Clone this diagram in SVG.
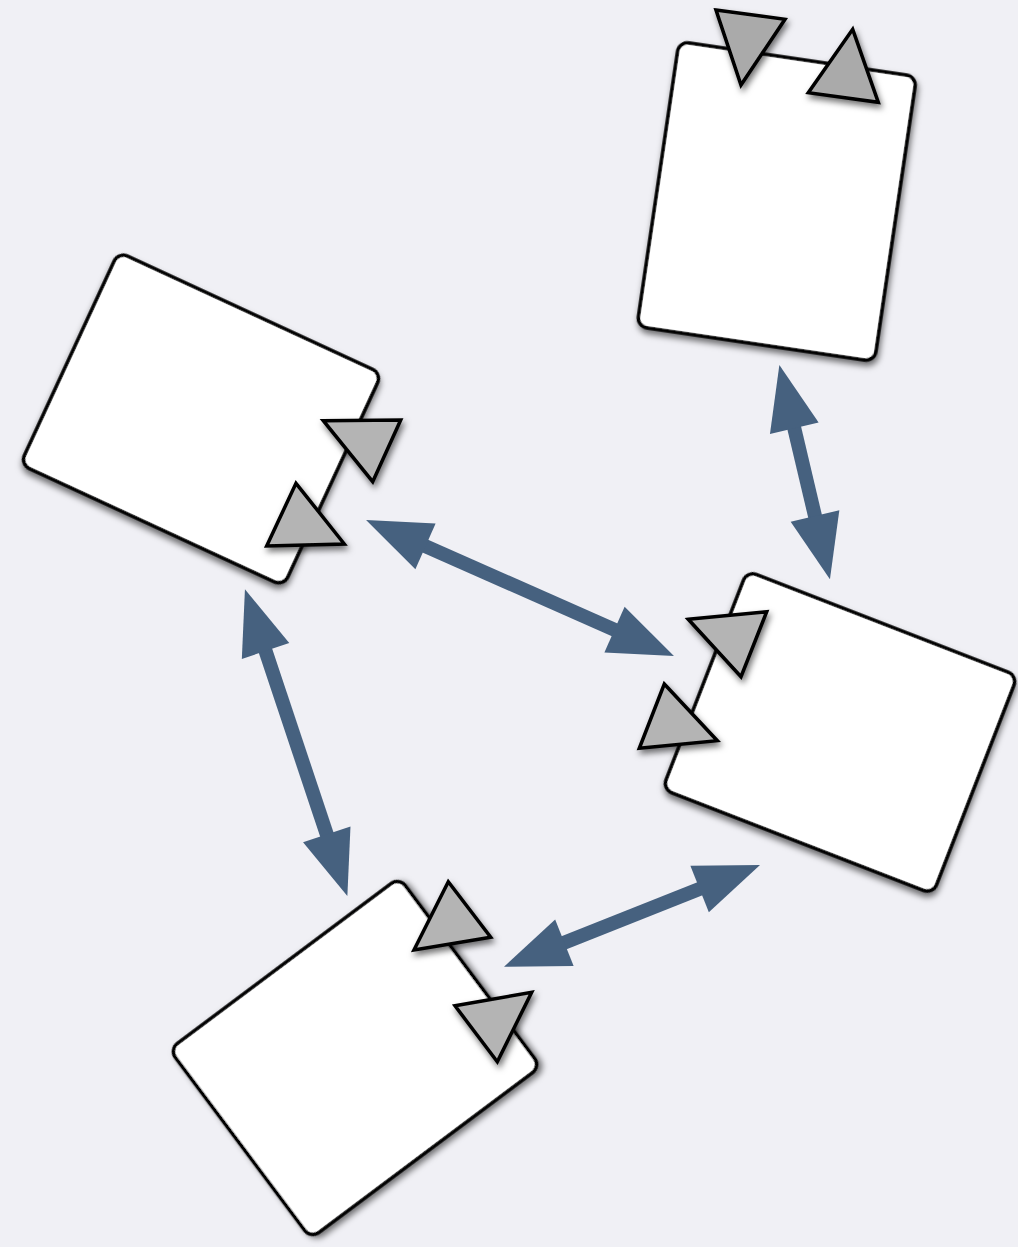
<svg xmlns="http://www.w3.org/2000/svg" width="1018" height="1247" viewBox="0 0 1018 1247">
<defs>
<filter id="sh" x="-20%" y="-20%" width="140%" height="140%">
<feDropShadow dx="2" dy="4" stdDeviation="3" flood-color="#000" flood-opacity="0.55"/>
</filter>
<marker id="ah" markerUnits="userSpaceOnUse" markerWidth="70" markerHeight="50" refX="20" refY="25" orient="auto-start-reverse" overflow="visible">
<path d="M0,0 L65,25 L0,50 z" fill="#46617f"/>
</marker>
</defs>
<style>
.box{fill:#ffffff;stroke:#000;stroke-width:3.5;filter:url(#sh)}
.tri{fill:#b4b4b4;stroke:#000;stroke-width:3.5;stroke-linejoin:miter;filter:url(#sh)}
.triA{fill:#aaaaaa}
.conn{stroke:#46617f;stroke-width:14;fill:none;marker-start:url(#ah);marker-end:url(#ah)}
</style>
<rect x="0" y="0" width="1018" height="1247" fill="#f0f0f5"/>
<g id="connectors">
<line class="conn" x1="789.7" y1="408.8" x2="819.6" y2="535.5"/>
<line class="conn" x1="407.2" y1="538.2" x2="632.8" y2="637.8"/>
<line class="conn" x1="259.2" y1="632.0" x2="333.1" y2="853.3"/>
<line class="conn" x1="545.8" y1="950.1" x2="718.2" y2="881.6"/>
</g>
<g id="nodeA">
<rect class="box" x="-120" y="-144" width="240" height="288" rx="10" transform="translate(776.75,201.5) rotate(8.4)"/>
<polygon class="tri triA" points="716,10 785,19.3 741,85"/>
<polygon class="tri triA" points="852.7,29.3 878.3,102.3 808.3,92.7"/>
</g>
<g id="nodeB">
<rect class="box" x="-145" y="-117" width="290" height="234" rx="10" transform="translate(201,419) rotate(24.8)"/>
<polygon class="tri" points="323.3,420.7 400.7,420 372.7,481.7"/>
<polygon class="tri" points="296,483.3 344.3,544 266.7,546"/>
</g>
<g id="nodeC">
<rect class="box" x="-145" y="-117" width="290" height="234" rx="10" transform="translate(840,732.5) rotate(21.2)"/>
<polygon class="tri" points="688.3,619.3 766.7,611.7 741,676.7"/>
<polygon class="tri" points="664.3,684 717.3,740.7 639.3,748.3"/>
</g>
<g id="nodeD">
<rect class="box" x="-143.5" y="-118" width="287" height="236" rx="10" transform="translate(355,1058) rotate(-36.8)"/>
<polygon class="tri" points="448.3,881.7 490.7,937.3 414,950"/>
<polygon class="tri" points="455,1005.7 531.7,992.3 497.3,1061.7"/>
</g>
</svg>
